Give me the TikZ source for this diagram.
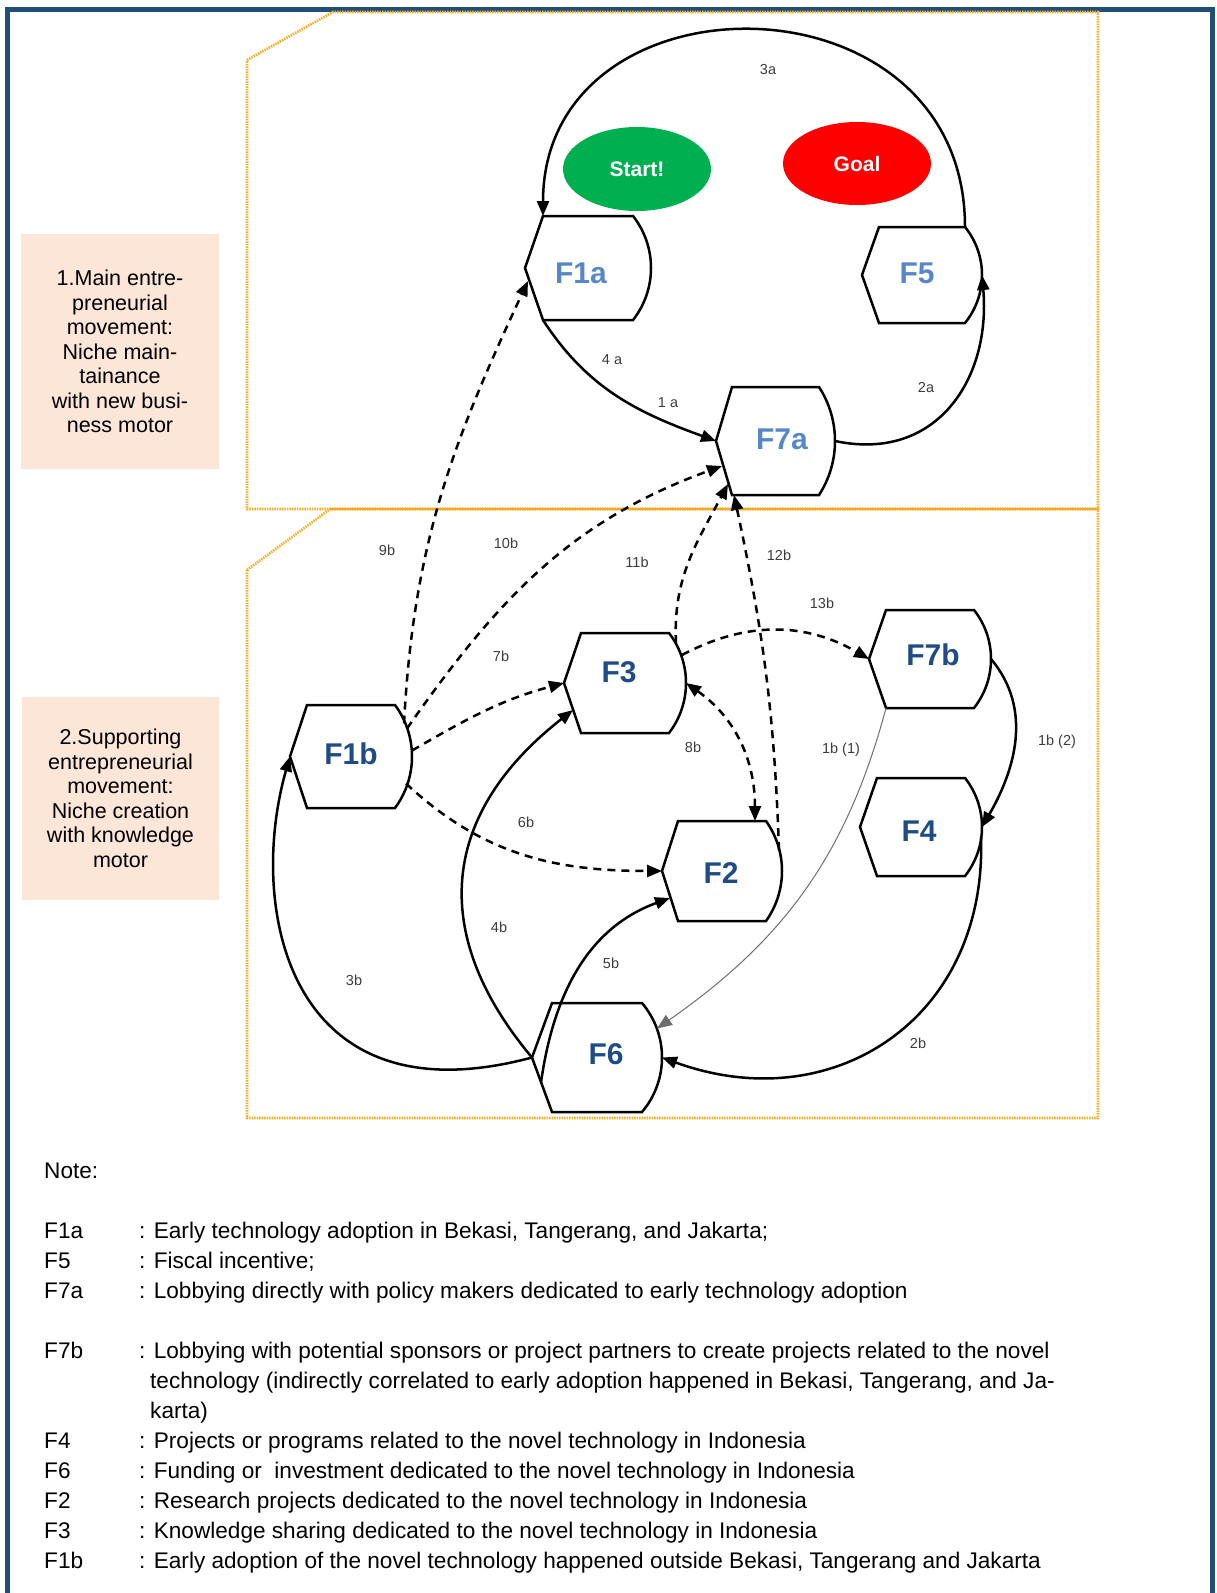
\documentclass[tikz,border=0pt]{standalone}
\usepackage{fontspec}
\setmainfont{Liberation Sans}
\usetikzlibrary{arrows.meta,calc,shapes.geometric}

\definecolor{frameblue}{RGB}{31,78,121}
\definecolor{peach}{RGB}{252,230,216}
\definecolor{dotorange}{RGB}{245,176,40}
\definecolor{lineorange}{RGB}{243,168,30}
\definecolor{startgreen}{RGB}{0,176,80}
\definecolor{goalred}{RGB}{255,0,0}
\definecolor{lightblue}{RGB}{86,136,200}
\definecolor{darkblue}{RGB}{31,76,134}
\definecolor{labelgray}{RGB}{60,60,60}

% display-like shape: pointed left side, rounded right side
% #1 name, #2 left x, #3 top y, #4 right x, #5 bottom y, #6 inset (screen units, y downwards)
\newcommand\hexnode[6]{%
  \pgfmathsetmacro\hxH{(#5-#3)/2}%
  \pgfmathsetmacro\hxR{(\hxH*\hxH+#6*#6)/(2*#6)}%
  \pgfmathsetmacro\hxA{asin(\hxH/\hxR)}%
  \node[hexbox, minimum width={(#4-#2)*1pt}, minimum height={(#5-#3)*1pt}] (#1) at ({(#2+#4)/2},{-(#3+#5)/2}) {};
  \draw[hexline] (#1.west) -- ++(#6,\hxH) -- ({#4-#6},{-#3})
    arc[start angle=\hxA, end angle=-\hxA, radius=\hxR] -- ({#2+#6},{-#5}) -- cycle;
}

\begin{document}
\begin{tikzpicture}[x=1pt,y=1pt,
  hexline/.style={line width=2.5pt, line join=miter},
  hexbox/.style={draw=none, inner sep=0pt, outer sep=0pt, rectangle},
  toplbl/.style={text=lightblue, inner sep=0pt, font=\fontsize{30}{36}\selectfont\bfseries},
  botlbl/.style={text=darkblue, inner sep=0pt, font=\fontsize{30}{36}\selectfont\bfseries},
  edge/.style={line width=2.5pt, -{Triangle[length=15pt,width=12pt]}},
  dashedge/.style={edge, dash pattern=on 8pt off 6pt},
  thinedge/.style={line width=1pt, draw={rgb,255:red,110;green,110;blue,110}, -{Triangle[length=15pt,width=12pt]}},
  elabel/.style={text=labelgray, inner sep=0pt, font=\fontsize{14.5}{17}\selectfont},
  catbox/.style={fill=peach, inner sep=0pt, align=center, font=\fontsize{21.5}{24.5}\selectfont},
  oval/.style={ellipse, inner sep=0pt, text=white, font=\fontsize{21}{25}\selectfont\bfseries},
  group/.style={draw=dotorange, line width=2.6pt, dash pattern=on 1.5pt off 1pt},
  legend/.style={inner sep=0pt, anchor=base west, font=\fontsize{22.6}{30}\selectfont}
]
\useasboundingbox (0,0) rectangle (1216,-1593);
\clip (0,0) rectangle (1216,-1593);

% outer frame
\draw[frameblue, line width=5pt] (7,-9.5) rectangle (1212,-1700);

% group outlines
\draw[group] (247,-60) -- (333,-12) -- (1098,-12) -- (1098,-509) -- (247,-509) -- cycle;
\draw[group] (247,-570) -- (330,-509) -- (1098,-509) -- (1098,-1118) -- (247,-1118) -- cycle;
\draw[lineorange, line width=2.6pt] (330,-509) -- (1098,-509);

% category captions
\node[catbox, minimum width=198pt, minimum height=235pt] (cat1) at (120,-351.5)
  {1.Main entre-\\preneurial\\movement:\\Niche main-\\tainance\\with new busi-\\ness motor};
\node[catbox, minimum width=197pt, minimum height=203pt] (cat2) at (120.5,-798.5)
  {2.Supporting\\entrepreneurial\\movement:\\Niche creation\\with knowledge\\motor};

% start and goal
\node[oval, fill=startgreen, minimum width=148pt, minimum height=84pt] (start) at (637,-169) {Start!};
\node[oval, fill=goalred, minimum width=148pt, minimum height=83pt] (goal) at (857,-163.5) {Goal};

% factor shapes
\hexnode{F1a}{525}{216}{651}{320}{18}
\hexnode{F5}{862}{227}{982}{323}{17}
\hexnode{F7a}{716}{387}{835}{495}{16}
\hexnode{F1b}{290}{705}{412}{808}{17}
\hexnode{F3}{564}{633}{686}{733}{17}
\hexnode{F7b}{869}{610}{991}{708}{17}
\hexnode{F4}{860}{778}{982}{876}{17}
\hexnode{F2}{662}{821}{782}{921}{16}
\hexnode{F6}{532}{1003}{662}{1112}{20}

\node[toplbl] (F1a-t) at (581,-273) {F1a};
\node[toplbl] (F5-t) at (917,-273) {F5};
\node[toplbl] (F7a-t) at (782,-439) {F7a};
\node[botlbl] (F1b-t) at (351,-754) {F1b};
\node[botlbl] (F3-t) at (619,-672) {F3};
\node[botlbl] (F7b-t) at (933,-655) {F7b};
\node[botlbl] (F4-t) at (919,-831) {F4};
\node[botlbl] (F2-t) at (721,-873) {F2};
\node[botlbl] (F6-t) at (606,-1054) {F6};

% main movement connectors
\draw[edge] ($(F5.north east)+(-17,0)$) .. controls +(0,260) and +(0,249) .. ($(F1a.north west)+(18,0)$);
\draw[edge] ($(F1a.south west)+(18,0)$) to[out=-57,in=160] (F7a.west);
\draw[edge] (F7a.east) to[out=-12,in=-85,looseness=1.2] (F5.east);

% supporting movement connectors (dashed)
\draw[dashedge] ($(F1b.east)+(-8,33)$) to[out=87,in=-115] ($(F1a.west)+(3,-13)$);
\draw[dashedge] ($(F1b.east)+(-5,28)$) to[out=55,in=200] ($(F7a.west)+(6,-25)$);
\draw[dashedge] ($(F3.east)+(-10,40)$) to[out=93,in=-118] ($(F7a.west)+(12,-43)$);
\draw[dashedge] ($(F2.east)+(-3,21)$) to[out=92,in=-78] ($(F7a.south west)+(18,0)$);
\draw[dashedge] ($(F3.east)+(-4,28)$) to[out=28,in=150] (F7b.west);
\draw[dashedge] ($(F1b.east)+(0,6)$) to[out=30,in=195] (F3.west);
\draw[dashedge] ($(F1b.east)+(-6,-27)$) to[out=-43,in=180] (F2.west);
\draw[dashedge, {Triangle[length=15pt,width=12pt]}-{Triangle[length=15pt,width=12pt]}] (F3.east) to[out=-35,in=90] ($(F2.north east)+(-27,0)$);

% supporting movement connectors (solid)
\draw[thinedge] ($(F7b.south west)+(17,0)$) to[out=-105,in=35] ($(F6.east)+(-5,29)$);
\draw[edge] (F7b.east) to[out=-50,in=60] (F4.east);
\draw[edge] ($(F4.east)+(-1,-10)$) to[out=-88,in=-20,looseness=1.2] (F6.east);
\draw[edge] (F6.west) .. controls +(195:255) and +(-106:155) .. (F1b.west);
\draw[edge] (F6.west) .. controls +(130:165) and +(218:165) .. ($(F3.west)+(9,-27)$);
\draw[edge] ($(F6.west)+(9,-25)$) to[out=82,in=200] ($(F2.west)+(8,-27)$);

% connector labels
\node[elabel] (l3a) at (768,-70) {3a};
\node[elabel] (l4a) at (612,-360) {4 a};
\node[elabel] (l1a) at (668,-403) {1 a};
\node[elabel] (l2a) at (926,-388) {2a};
\node[elabel] (l9b) at (387,-550) {9b};
\node[elabel] (l10b) at (506,-543) {10b};
\node[elabel] (l11b) at (637,-562) {11b};
\node[elabel] (l12b) at (779,-555) {12b};
\node[elabel] (l13b) at (822,-603) {13b};
\node[elabel] (l7b) at (501,-656) {7b};
\node[elabel] (l8b) at (693,-747) {8b};
\node[elabel] (l6b) at (526,-822) {6b};
\node[elabel] (l1b1) at (841,-750) {1b (1)};
\node[elabel] (l1b2) at (1057,-742) {1b (2)};
\node[elabel] (l4b) at (499,-927) {4b};
\node[elabel] (l5b) at (611,-963) {5b};
\node[elabel] (l3b) at (354,-980) {3b};
\node[elabel] (l2b) at (918,-1043) {2b};

% notes
\node[legend] (note) at (44,-1178) {Note:};
\node[legend] (k1) at (44,-1238) {F1a};
\node[legend] (d1) at (139,-1238) {: Early technology adoption in Bekasi, Tangerang, and Jakarta;};
\node[legend] (k2) at (44,-1268) {F5};
\node[legend] (d2) at (139,-1268) {: Fiscal incentive;};
\node[legend] (k3) at (44,-1298) {F7a};
\node[legend] (d3) at (139,-1298) {: Lobbying directly with policy makers dedicated to early technology adoption};
\node[legend] (k4) at (44,-1358) {F7b};
\node[legend] (d4) at (139,-1358) {: Lobbying with potential sponsors or project partners to create projects related to the novel};
\node[legend] (d4b) at (150,-1388) {technology (indirectly correlated to early adoption happened in Bekasi, Tangerang, and Ja-};
\node[legend] (d4c) at (150,-1418) {karta)};
\node[legend] (k5) at (44,-1448) {F4};
\node[legend] (d5) at (139,-1448) {: Projects or programs related to the novel technology in Indonesia};
\node[legend] (k6) at (44,-1478) {F6};
\node[legend] (d6) at (139,-1478) {: Funding or~ investment dedicated to the novel technology in Indonesia};
\node[legend] (k7) at (44,-1508) {F2};
\node[legend] (d7) at (139,-1508) {: Research projects dedicated to the novel technology in Indonesia};
\node[legend] (k8) at (44,-1538) {F3};
\node[legend] (d8) at (139,-1538) {: Knowledge sharing dedicated to the novel technology in Indonesia};
\node[legend] (k9) at (44,-1568) {F1b};
\node[legend] (d9) at (139,-1568) {: Early adoption of the novel technology happened outside Bekasi, Tangerang and Jakarta};
\end{tikzpicture}
\end{document}
